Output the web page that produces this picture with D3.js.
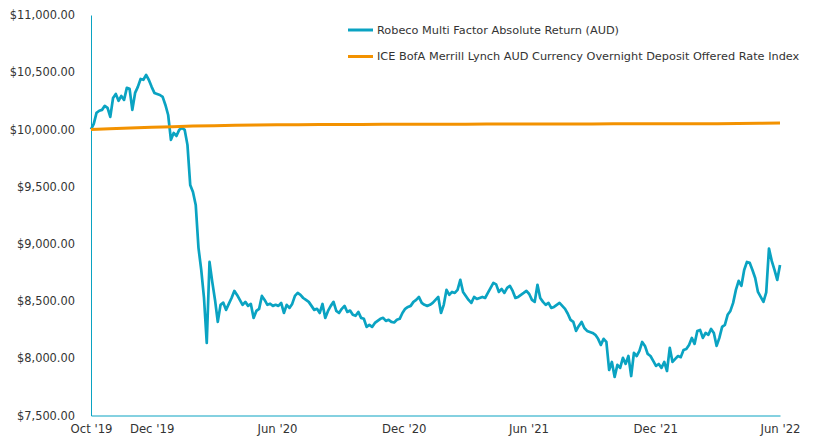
<!DOCTYPE html>
<html>
<head>
<meta charset="utf-8">
<script src="https://cdn.jsdelivr.net/npm/d3@7"></script>
<style>
  body { margin: 0; background: #fff; }
  .axis path { stroke: #0aa3c2; }
  .y.axis text { font-family: "DejaVu Sans", sans-serif; font-size: 11.4px; fill: #333; }
  .x.axis text { font-family: "DejaVu Sans", sans-serif; font-size: 11.7px; fill: #333; }
  .legend text { font-family: "DejaVu Sans", sans-serif; font-size: 11.3px; fill: #333; }
</style>
</head>
<body>
<div class="chart"></div>
<script>
// Series names
const seriesNames = ["Robeco Multi Factor Absolute Return (AUD)",
    "ICE BofA Merrill Lynch AUD Currency Overnight Deposit Offered Rate Index"]

// Fund: growth of $10,000, one reading every 4 days from 4 Oct 2019
const fundStart = "2019-10-04"
const fundStepDays = 4
const fundValues = [
    10000, 10048, 10145, 10163, 10171, 10206, 10189, 10110, 10275, 10310,
    10250, 10293, 10258, 10363, 10355, 10171, 10319, 10372, 10441, 10434,
    10476, 10432, 10372, 10319, 10310, 10301, 10284, 10214, 10126, 9909,
    9969, 9943, 9996, 10013, 9996, 9865, 9515, 9454, 9340, 8965,
    8772, 8527, 8134, 8842, 8668, 8510, 8318, 8467, 8486, 8423,
    8475, 8527, 8589, 8554, 8510, 8467, 8493, 8458, 8475, 8353,
    8414, 8432, 8545, 8510, 8467, 8477, 8458, 8467, 8458, 8484,
    8396, 8467, 8440, 8475, 8545, 8571, 8554, 8527, 8510, 8493,
    8458, 8423, 8432, 8396, 8475, 8353, 8414, 8458, 8493, 8414,
    8396, 8432, 8458, 8405, 8417, 8380, 8371, 8405, 8353, 8345,
    8274, 8292, 8274, 8309, 8327, 8345, 8353, 8327, 8336, 8318,
    8313, 8336, 8345, 8396, 8432, 8449, 8458, 8493, 8510, 8536,
    8484, 8467, 8458, 8467, 8484, 8510, 8536, 8396, 8467, 8598,
    8554, 8580, 8571, 8598, 8685, 8580, 8545, 8510, 8484, 8536,
    8518, 8527, 8536, 8527, 8571, 8615, 8659, 8646, 8580, 8606,
    8571, 8615, 8633, 8589, 8527, 8536, 8554, 8571, 8589, 8562,
    8510, 8493, 8642, 8527, 8493, 8467, 8484, 8440, 8449, 8467,
    8484, 8458, 8432, 8389, 8336, 8318, 8239, 8283, 8318, 8265,
    8239, 8230, 8221, 8205, 8170, 8117, 8170, 8143, 7898, 7968,
    7837, 7942, 7916, 8004, 7951, 8020, 7845, 8047, 8020, 8064,
    8143, 8108, 8038, 8020, 7977, 7933, 7950, 7916, 7968, 7889,
    8091, 7968, 7995, 8020, 8010, 8073, 8082, 8117, 8178, 8126,
    8239, 8248, 8178, 8221, 8205, 8257, 8221, 8108, 8178, 8274,
    8292, 8380, 8414, 8484, 8598, 8677, 8633, 8772, 8842, 8834,
    8772, 8702, 8580, 8536, 8493, 8576, 8959, 8851, 8772, 8685,
    8816
]

// Cash index, month ends
const rateDates = [
    "2019-10-04", "2019-10-31", "2019-11-30", "2019-12-31", "2020-01-31", "2020-02-29",
    "2020-03-31", "2020-04-30", "2020-05-31", "2020-06-30", "2020-07-31", "2020-08-31",
    "2020-09-30", "2020-10-31", "2020-11-30", "2020-12-31", "2021-01-31", "2021-02-28",
    "2021-03-31", "2021-04-30", "2021-05-31", "2021-06-30", "2021-07-31", "2021-08-31",
    "2021-09-30", "2021-10-31", "2021-11-30", "2021-12-31", "2022-01-31", "2022-02-28",
    "2022-03-31", "2022-04-30", "2022-05-31", "2022-06-30"
]
const rateValues = [
    10000, 10006, 10012, 10018, 10024, 10029,
    10033, 10036, 10038, 10040, 10041, 10042,
    10043, 10044, 10045, 10045, 10046, 10046,
    10046, 10047, 10047, 10047, 10048, 10048,
    10048, 10049, 10049, 10049, 10050, 10050,
    10050, 10051, 10053, 10056
]

// Axis ticks
const xTickDates = ["2019-10-04", "2019-12-31", "2020-06-30", "2020-12-31", "2021-06-30", "2021-12-31", "2022-06-30"]
const yTicks = [7500, 8000, 8500, 9000, 9500, 10000, 10500, 11000]

const colors = ["#0aa3c2", "#f39200"]

const margin = {top: 15, right: 38, bottom: 24.5, left: 91},
    width = 818 - margin.left - margin.right,
    height = 440 - margin.top - margin.bottom

const parse = d3.utcParse("%Y-%m-%d")

const fund = fundValues.map((v, i) => ({date: d3.utcDay.offset(parse(fundStart), i * fundStepDays), value: v}))
const rate = rateValues.map((v, i) => ({date: parse(rateDates[i]), value: v}))

const x = d3.scaleUtc()
    .domain([parse(xTickDates[0]), parse(xTickDates[xTickDates.length - 1])])
    .range([0, width])

const y = d3.scaleLinear()
    .domain([7500, 11000])
    .range([height, 0])

const svg = d3.select(".chart").append("svg")
    .attr("width", width + margin.left + margin.right)
    .attr("height", height + margin.top + margin.bottom)
    .append("g")
        .attr("transform", "translate(" + margin.left + "," + margin.top + ")")

// No tick marks, only the labels and the teal axis line
svg.append("g")
    .attr("class", "x axis")
    .attr("transform", "translate(0," + height + ")")
    .call(d3.axisBottom(x)
        .tickValues(xTickDates.map(parse))
        .tickFormat(d3.utcFormat("%b '%y"))
        .tickSize(0)
        .tickPadding(9))

svg.append("g")
    .attr("class", "y axis")
    .call(d3.axisLeft(y)
        .tickValues(yTicks)
        .tickFormat(d3.format("$,.2f"))
        .tickSize(0)
        .tickPadding(16))

svg.selectAll(".axis .domain").attr("stroke", colors[0])

const line = d3.line()
    .x(d => x(d.date))
    .y(d => y(d.value))

// fund first, cash index drawn on top
svg.append("path")
    .datum(fund)
    .attr("fill", "none")
    .attr("stroke", colors[0])
    .attr("stroke-width", 2.7)
    .attr("stroke-linejoin", "round")
    .attr("d", line)

svg.append("path")
    .datum(rate)
    .attr("fill", "none")
    .attr("stroke", colors[1])
    .attr("stroke-width", 3)
    .attr("d", line)

const legend = svg.selectAll(".legend")
    .data(seriesNames)
    .enter().append("g")
        .attr("class", "legend")
        .attr("transform", (d, i) => "translate(" + (348 - margin.left) + "," + (30 - margin.top + i * 26.5) + ")")

legend.append("line")
    .attr("x1", 0)
    .attr("x2", 25)
    .attr("stroke", (d, i) => colors[i])
    .attr("stroke-width", 3)

legend.append("text")
    .attr("x", 29)
    .attr("dy", "0.35em")
    .text(d => d)
</script>
</body>
</html>
